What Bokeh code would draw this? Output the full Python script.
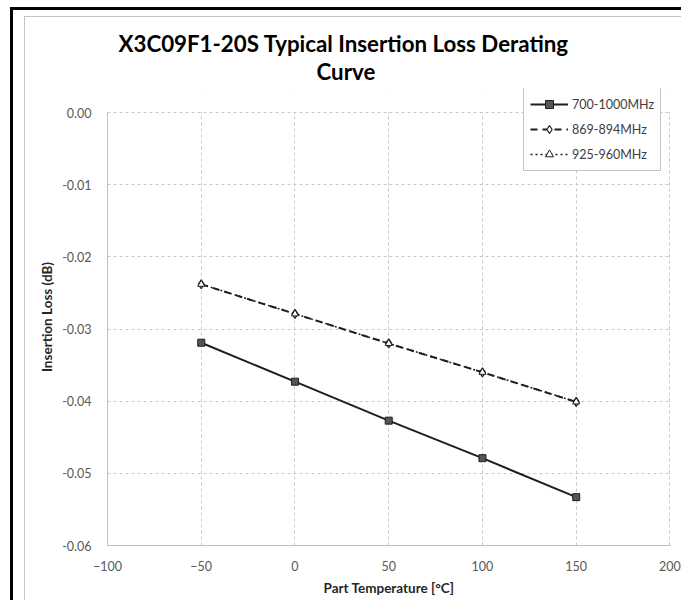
from bokeh.plotting import figure
from bokeh.models import (Range1d, FixedTicker, NumeralTickFormatter, Legend, LegendItem,
                          Title, BoxAnnotation)
from bokeh.embed import file_html
from bokeh.resources import INLINE

# ---- data ----
temps = [-50, 0, 50, 100, 150]
loss_700_1000 = [-0.0319, -0.0373, -0.0427, -0.0479, -0.0533]
loss_869_894 = [-0.0238, -0.0279, -0.0320, -0.0360, -0.0401]
loss_925_960 = [-0.0238, -0.0279, -0.0320, -0.0360, -0.0401]
series_names = ["700-1000MHz", "869-894MHz", "925-960MHz"]
x_ticks = [-100, -50, 0, 50, 100, 150, 200]
y_ticks = [-0.06, -0.05, -0.04, -0.03, -0.02, -0.01, 0.0]
title_line1 = "X3C09F1-20S Typical Insertion Loss Derating"
title_line2 = "Curve"
x_label = "Part Temperature [°C]"
y_label = "Insertion Loss (dB)"

FONT = "Lato"
INK = "#1e1e1e"

# frame extends a little above 0.00 so the legend can sit there, as in the reference
p = figure(width=681, height=600, output_backend="svg", toolbar_location=None,
           x_range=Range1d(-100, 200.3), y_range=Range1d(-0.06, 0.00333),
           min_border_left=107, min_border_right=11, min_border_top=88, min_border_bottom=55)
p.title = None
p.outline_line_color = None
p.background_fill_color = "white"
p.border_fill_color = None
p.styles = {"background-color": "white",
            "box-shadow": "inset 10px 7px 0 0 white, inset 13px 10px 0 0 black, "
                          "inset 24px 16px 0 0 white, inset 25px 17px 0 0 #c4c4c4"}

# titles (first added is nearest to the plot)
t2 = Title(text=title_line2, align="left", offset=209, text_font=FONT, text_font_size="22.3px",
           text_font_style="bold", text_color="#000000", standoff=8)
t1 = Title(text=title_line1, align="left", offset=11, text_font=FONT, text_font_size="22.3px",
           text_font_style="bold", text_color="#000000", standoff=-11)
p.add_layout(t2, "above")
p.add_layout(t1, "above")

# axes
for ax in (p.xaxis[0], p.yaxis[0]):
    ax.major_tick_line_color = None
    ax.minor_tick_line_color = None
    ax.axis_line_color = "#bfbfbf"
    ax.major_label_text_font = FONT
    ax.major_label_text_font_size = "12.5px"
    ax.major_label_text_color = "#595959"
    ax.axis_label_text_font = FONT
    ax.axis_label_text_font_size = "13.5px"
    ax.axis_label_text_font_style = "bold"
    ax.axis_label_text_color = "#262626"
p.xaxis.ticker = FixedTicker(ticks=x_ticks)
p.yaxis.ticker = FixedTicker(ticks=y_ticks)
p.yaxis.bounds = (-0.06, 0.0)
p.yaxis.formatter = NumeralTickFormatter(format="0.00")
p.xaxis.axis_label = x_label
p.yaxis.axis_label = y_label
p.xaxis.major_label_standoff = 9
p.yaxis.major_label_standoff = 10
p.xaxis.axis_label_standoff = 6
p.yaxis.axis_label_standoff = 4

p.xgrid.grid_line_color = "#c8c8c8"
p.ygrid.grid_line_color = "#c8c8c8"
p.xgrid.grid_line_dash = "3 3"
p.ygrid.grid_line_dash = "3 3"

# hide grid above the 0.00 line
p.add_layout(BoxAnnotation(bottom=0.00006, fill_color="white", fill_alpha=1,
                           line_alpha=0, level="underlay"))

# series
l1 = p.line(temps, loss_700_1000, line_color=INK, line_width=2)
m1 = p.scatter(temps, loss_700_1000, marker="square", size=7, line_color=INK,
               fill_color="#555555", line_width=1)
l2 = p.line(temps, loss_869_894, line_color=INK, line_width=2, line_dash="7 5")
m2 = p.scatter(temps, loss_869_894, marker="diamond", size=9, line_color=INK,
               fill_color="white", line_width=1.2)
l3 = p.line(temps, loss_925_960, line_color=INK, line_width=1.5, line_dash="2 3")
m3 = p.scatter(temps, loss_925_960, marker="triangle", size=7, line_color=INK,
               fill_color="white", line_width=1)

legend = Legend(items=[
    LegendItem(label=series_names[0], renderers=[l1, m1]),
    LegendItem(label=series_names[1], renderers=[l2, m2]),
    LegendItem(label=series_names[2], renderers=[l3, m3]),
], location=(416, 374))
legend.label_text_font = FONT
legend.label_text_font_size = "12.5px"
legend.label_text_color = "#404040"
legend.glyph_width = 38
legend.glyph_height = 20
legend.label_height = 20
legend.spacing = 5
legend.padding = 6
legend.margin = 0
legend.label_standoff = 4
legend.border_line_color = "#8c8c8c"
legend.border_line_width = 1
legend.background_fill_alpha = 1.0
p.add_layout(legend, "center")

open("out.html", "w").write(file_html(p, INLINE))
